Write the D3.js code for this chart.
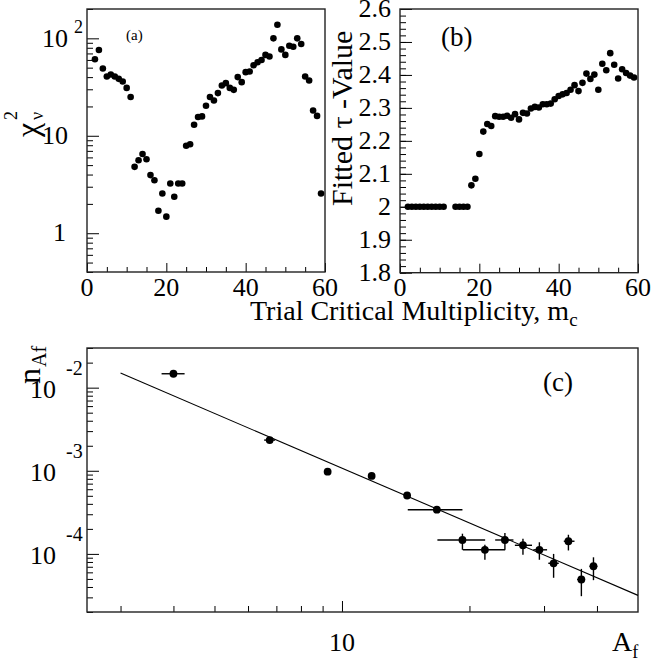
<!DOCTYPE html>
<html>
<head>
<meta charset="utf-8">
<script src="https://cdn.jsdelivr.net/npm/d3@7"></script>
<style>
  body { margin: 0; background: #fff; }
</style>
</head>
<body>
<script>
// panel (a) : reduced chi2 vs trial critical multiplicity
const mcA = [2,3,4,5,6,7,8,9,10,11,12,13,14,15,16,17,18,19,20,21,22,23,24,25,26,27,28,29,30,
  31,32,33,34,35,36,37,38,39,40,41,42,43,44,45,46,47,48,49,50,51,52,53,54,55,56,57,58,59];
const chi2 = [61,76,49,40.6,42.5,40.6,38.4,36,31,25,4.8,5.6,6.5,5.75,3.95,3.5,1.7,2.56,1.48,3.24,
  2.37,3.24,3.24,7.9,8.2,13,15.6,15.8,20.3,25,23,27.4,32.8,34.7,31,29.6,40,35.5,45,45.6,53,56.9,
  60,67.6,65,100,138,77,67.6,84,82,100,87.5,40.6,36.9,18.2,16,2.56];

// panel (b) : fitted tau
const mcB = [2,3,4,5,6,7,8,9,10,11,14,15,16,17,18,19,20,21,22,23,24,25,26,27,28,29,30,
  31,32,33,34,35,36,37,38,39,40,41,42,43,44,45,46,47,48,49,50,51,52,53,54,55,56,57,58,59];
const tau = [2,2,2,2,2,2,2,2,2,2,2,2,2,2,2.065,2.085,2.16,2.228,2.251,2.245,2.275,2.273,2.273,
  2.276,2.27,2.281,2.265,2.285,2.283,2.298,2.303,2.301,2.311,2.311,2.313,2.326,2.336,2.341,2.345,
  2.355,2.369,2.351,2.376,2.404,2.388,2.401,2.355,2.434,2.414,2.466,2.431,2.389,2.417,2.406,2.398,2.392];

// panel (c) : fragment yield vs A_f
const af   = [4,6.75,9.25,11.75,14.25,16.75,19.25,21.75,24.25,26.75,29.25,31.6,34.25,36.75,39.25];
const afLo = [3.75,6.55,9.25,11.75,14.25,14.3,16.8,19.29,23.0,25.6,28.3,30.7,33.4,35.9,38.4];
const afHi = [4.25,6.95,9.25,11.75,14.25,19.25,21.78,24.28,25.4,28.1,30.5,32.5,35.4,37.5,40.1];
const nAf  = [1.47e-2,2.34e-3,9.75e-4,8.67e-4,5.04e-4,3.40e-4,1.47e-4,1.12e-4,1.47e-4,1.27e-4,1.12e-4,7.71e-5,1.42e-4,4.92e-5,7.1e-5];
const nLo  = [1.47e-2,2.34e-3,9.75e-4,8.67e-4,5.04e-4,3.40e-4,1.12e-4,8.5e-5,1.12e-4,9.8e-5,8.5e-5,5.16e-5,1.10e-4,3.1e-5,4.83e-5];
const nHi  = [1.47e-2,2.34e-3,9.75e-4,8.67e-4,5.04e-4,3.40e-4,1.75e-4,1.29e-4,1.79e-4,1.52e-4,1.38e-4,1.0e-4,1.70e-4,6.6e-5,9.1e-5];
const fitLine = [[3, 0.0150], [50, 3.17e-5]];

const W = 652, H = 663;
const FONT = "'Liberation Serif', 'Times New Roman', 'DejaVu Serif', serif";
const svg = d3.select("body").append("svg").attr("width", W).attr("height", H)
  .style("display", "block").attr("font-family", FONT);

function logMinors(lo, hi) {
  const out = [];
  for (let e = -6; e <= 3; e++) for (let k = 1; k <= 9; k++) {
    const v = k * Math.pow(10, e);
    if (v >= lo * 0.999 && v <= hi * 1.001) out.push(v);
  }
  return out;
}
function range(a, b, s) { const o = []; for (let v = a; v <= b + 1e-9; v += s) o.push(+v.toFixed(4)); return o; }

function ticks(g, axis, vals, len) {
  g.call(axis.tickValues(vals).tickSize(-len).tickFormat(""));
  g.select(".domain").remove();
  g.selectAll(".tick line").attr("stroke", "#000").attr("stroke-width", 1);
}

function frame(x0, y0, x1, y1) {
  svg.append("rect").attr("x", x0).attr("y", y0).attr("width", x1 - x0).attr("height", y1 - y0)
    .attr("fill", "none").attr("stroke", "#222").attr("stroke-width", 1.4);
}

function txt(x, y, s, size, anchor) {
  return svg.append("text").attr("x", x).attr("y", y).attr("font-size", size)
    .attr("font-family", FONT).attr("text-anchor", anchor || "start").attr("fill", "#000").text(s);
}

// ---------- panel (a)
const xa = d3.scaleLinear().domain([0, 60]).range([87, 325]);
const ya = d3.scaleLog().domain([0.4, 200]).range([272, 9]);
ticks(svg.append("g").attr("transform", "translate(0,272)"), d3.axisBottom(xa), range(0, 60, 5).filter(v => v % 20), 5);
ticks(svg.append("g").attr("transform", "translate(0,272)"), d3.axisBottom(xa), [0, 20, 40, 60], 9);
ticks(svg.append("g").attr("transform", "translate(87,0)"), d3.axisLeft(ya), logMinors(0.4, 200).filter(v => ![1, 10, 100].includes(v)), 6);
ticks(svg.append("g").attr("transform", "translate(87,0)"), d3.axisLeft(ya), [1, 10, 100], 12);
frame(87, 9, 325, 272);
svg.append("g").selectAll("circle").data(mcA).join("circle")
  .attr("cx", d => xa(d)).attr("cy", (d, i) => ya(chi2[i])).attr("r", 3.3).attr("fill", "#000");
[0, 20, 40, 60].forEach(v => txt(xa(v), 296, v, 26, "middle"));
txt(68, ya(100) + 9, "10", 26, "end"); txt(74, ya(100) - 5, "2", 18);
txt(68, ya(10) + 8, "10", 26, "end");
txt(66, ya(1) + 8, "1", 26, "end");
txt(126, 40, "(a)", 15);
// chi2_nu title
const ga = svg.append("g").attr("transform", "translate(38,137) rotate(-90)").attr("font-family", FONT);
ga.append("text").attr("x", 0).attr("y", 0).attr("font-size", 32).text("χ");
ga.append("text").attr("x", 17).attr("y", -21).attr("font-size", 18).text("2");
ga.append("text").attr("x", 17).attr("y", 5).attr("font-size", 18).text("ν");

// ---------- panel (b)
const xb = d3.scaleLinear().domain([0, 60]).range([400, 638]);
const yb = d3.scaleLinear().domain([1.8, 2.6]).range([272.7, 9]);
ticks(svg.append("g").attr("transform", "translate(0,272.7)"), d3.axisBottom(xb), range(0, 60, 5).filter(v => v % 20), 5);
ticks(svg.append("g").attr("transform", "translate(0,272.7)"), d3.axisBottom(xb), [0, 20, 40, 60], 9);
ticks(svg.append("g").attr("transform", "translate(400,0)"), d3.axisLeft(yb), range(1.8, 2.6, 0.02), 6);
ticks(svg.append("g").attr("transform", "translate(400,0)"), d3.axisLeft(yb), range(1.8, 2.6, 0.1), 12);
frame(400, 9, 638, 272.7);
svg.append("g").selectAll("circle").data(mcB).join("circle")
  .attr("cx", d => xb(d)).attr("cy", (d, i) => yb(tau[i])).attr("r", 3.3).attr("fill", "#000");
[0, 20, 40, 60].forEach(v => txt(xb(v), 296, v, 26, "middle"));
range(1.8, 2.6, 0.1).forEach(v => txt(391, yb(v) + 8, v === 2 ? "2" : v.toFixed(1), 26, "end"));
txt(441, 46, "(b)", 27);
svg.append("text").attr("transform", "translate(352,206) rotate(-90)")
  .attr("font-family", FONT).attr("font-size", 30).text("Fitted τ -Value");

// shared x title
const xt = txt(250, 320, "Trial Critical Multiplicity, m", 28);
xt.append("tspan").attr("font-size", 19).attr("dy", 6).text("c");

// ---------- panel (c)
const xc = d3.scaleLog().domain([2.5, 50]).range([87, 638]);
const yc = d3.scaleLog().domain([2e-5, 0.03]).range([612, 348]);
ticks(svg.append("g").attr("transform", "translate(0,612)"), d3.axisBottom(xc), [3, 4, 5, 6, 7, 8, 9, 20, 30, 40], 6);
ticks(svg.append("g").attr("transform", "translate(0,612)"), d3.axisBottom(xc), [10], 11);
ticks(svg.append("g").attr("transform", "translate(87,0)"), d3.axisLeft(yc), logMinors(2e-5, 0.03).filter(v => ![1e-4, 1e-3, 1e-2].includes(v)), 6);
ticks(svg.append("g").attr("transform", "translate(87,0)"), d3.axisLeft(yc), [1e-4, 1e-3, 1e-2], 12);
frame(87, 348, 638, 612);

svg.append("path").datum(fitLine)
  .attr("d", d3.line().x(d => xc(d[0])).y(d => yc(d[1])))
  .attr("fill", "none").attr("stroke", "#000").attr("stroke-width", 1.1);

const gc = svg.append("g").attr("stroke", "#000").attr("stroke-width", 1.4);
af.forEach((a, i) => {
  if (afHi[i] > afLo[i]) gc.append("line").attr("x1", xc(afLo[i])).attr("x2", xc(afHi[i]))
    .attr("y1", yc(nAf[i])).attr("y2", yc(nAf[i]));
  if (nHi[i] > nLo[i]) gc.append("line").attr("x1", xc(a)).attr("x2", xc(a))
    .attr("y1", yc(nLo[i])).attr("y2", yc(nHi[i]));
});
svg.append("g").selectAll("circle").data(af).join("circle")
  .attr("cx", d => xc(d)).attr("cy", (d, i) => yc(nAf[i])).attr("r", 3.9).attr("fill", "#000");

[[1e-2, "-2"], [1e-3, "-3"], [1e-4, "-4"]].forEach(([v, e]) => {
  txt(56, yc(v) + 10, "10", 26, "end");
  txt(66, yc(v) - 13, e, 20);
});
txt(xc(10), 651, "10", 26, "middle");
const at = txt(612, 651, "A", 28);
at.append("tspan").attr("font-size", 18).attr("dy", 7).text("f");
txt(543, 391, "(c)", 27);
const gn = svg.append("g").attr("transform", "translate(40,384) rotate(-90)").attr("font-family", FONT);
gn.append("text").attr("font-size", 32).text("n");
gn.append("text").attr("x", 17).attr("y", 6).attr("font-size", 20).text("Af");
</script>
</body>
</html>
